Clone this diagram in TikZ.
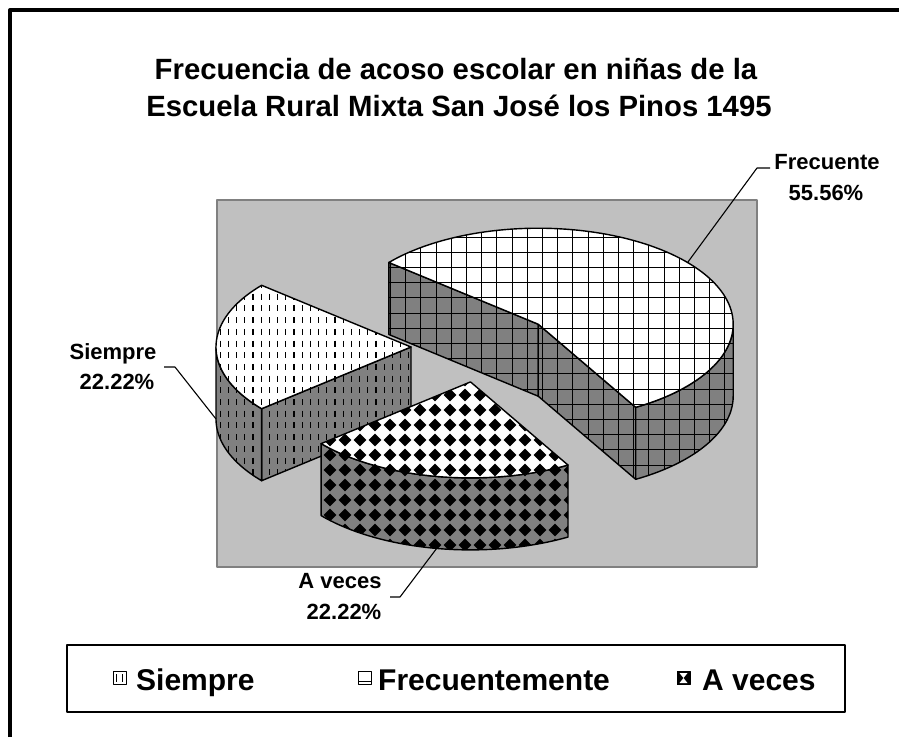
\documentclass[tikz,border=0pt]{standalone}
\usepackage{fontspec}
\setmainfont{Liberation Sans}
\begin{document}
\begin{tikzpicture}[x=1pt,y=-1pt,line join=round,
  edge/.style={draw=black,line width=1.4pt},
  leader/.style={draw=black,line width=1.1pt},
  lbl/.style={font=\fontsize{22}{26}\selectfont\bfseries,anchor=base,inner sep=0pt},
  ttl/.style={font=\fontsize{29.3}{34}\selectfont\bfseries,anchor=base,inner sep=0pt},
  leg/.style={font=\fontsize{30}{36}\selectfont\bfseries,anchor=base west,inner sep=0pt},
  key/.style={draw=black,line width=1pt,minimum size=13pt,inner sep=0pt}]
\definecolor{plotgrey}{HTML}{C0C0C0}
\definecolor{sidegrey}{HTML}{808080}
\newcommand\gridpat{%
  \foreach \k in {0,...,40}{\draw[black,line width=1.1pt] ({375.3+15.2*\k},200) -- ({375.3+15.2*\k},567);}%
  \foreach \k in {0,...,25}{\draw[black,line width=1.1pt] (217,{206.7+15.2*\k}) -- (757,{206.7+15.2*\k});}}
\newcommand\dashpat{%
  \foreach \i in {0,...,26}{\foreach \j in {0,...,18}{\draw[black,line width=1.3pt] ({212+8.2*\i},{282+11.7*\j}) -- ++(0,6);}}}
\newcommand\diapat{%
  \foreach \i in {0,...,18}{\foreach \j in {0,...,13}{\fill[black] ({315+15*\i},{380+15*\j}) +(-6.3,0) -- +(0,-6.3) -- +(6.3,0) -- +(0,6.3) -- cycle;}}}
\newcommand\face[3]{\begin{scope}\clip #1;\fill[#2] (0,0) rectangle (899,737);#3\end{scope}\draw[edge] #1;}
\useasboundingbox (0,0) rectangle (899,737);
\fill[white] (0,0) rectangle (899,737);
\draw[line width=4pt] (10,737) -- (10,10) -- (899,10);
\node[ttl] (t1) at (456,79) {Frecuencia de acoso escolar en niñas de la};
\node[ttl] (t2) at (459,116) {Escuela Rural Mixta San José los Pinos 1495};
\draw[fill=plotgrey,draw=sidegrey,line width=1.5pt] (217,200) rectangle (757,567);
% Frecuente
\def\Fx{538.2}\def\Fy{324.2}
\face{(\Fx,\Fy) -- ({\Fx+195*cos(140)},{\Fy-96*sin(140)}) -- ++(0,72) -- (\Fx,{\Fy+72}) -- cycle}{sidegrey}{\gridpat}
\face{(\Fx,\Fy) -- ({\Fx+195*cos(-60)},{\Fy-96*sin(-60)}) -- ++(0,72) -- (\Fx,{\Fy+72}) -- cycle}{sidegrey}{\gridpat}
\face{plot[domain=-60:0,samples=30,variable=\t] ({\Fx+195*cos(\t)},{\Fy-96*sin(\t)}) -- plot[domain=0:-60,samples=30,variable=\t] ({\Fx+195*cos(\t)},{\Fy+72-96*sin(\t)}) -- cycle}{sidegrey}{\gridpat}
\face{(\Fx,\Fy) -- plot[domain=-60:140,samples=100,variable=\t] ({\Fx+195*cos(\t)},{\Fy-96*sin(\t)}) -- cycle}{white}{\gridpat}
% Siempre
\def\Sx{411}\def\Sy{347}
\face{(\Sx,\Sy) -- ({\Sx+195*cos(220)},{\Sy-96*sin(220)}) -- ++(0,72) -- (\Sx,{\Sy+72}) -- cycle}{sidegrey}{\dashpat}
\face{plot[domain=180:220,samples=30,variable=\t] ({\Sx+195*cos(\t)},{\Sy-96*sin(\t)}) -- plot[domain=220:180,samples=30,variable=\t] ({\Sx+195*cos(\t)},{\Sy+72-96*sin(\t)}) -- cycle}{sidegrey}{\dashpat}
\face{(\Sx,\Sy) -- plot[domain=140:220,samples=50,variable=\t] ({\Sx+195*cos(\t)},{\Sy-96*sin(\t)}) -- cycle}{white}{\dashpat}
% A veces
\def\Ax{470.5}\def\Ay{381.9}
\face{plot[domain=220:300,samples=40,variable=\t] ({\Ax+195*cos(\t)},{\Ay-96*sin(\t)}) -- plot[domain=300:220,samples=40,variable=\t] ({\Ax+195*cos(\t)},{\Ay+72-96*sin(\t)}) -- cycle}{sidegrey}{\diapat}
\face{(\Ax,\Ay) -- plot[domain=220:300,samples=50,variable=\t] ({\Ax+195*cos(\t)},{\Ay-96*sin(\t)}) -- cycle}{white}{\diapat}
% labels
\node[lbl] (lf1) at (827,169) {Frecuente};
\node[lbl] (lf2) at (826,200) {55.56\%};
\node[lbl] (ls1) at (113,359) {Siempre};
\node[lbl] (ls2) at (117,389) {22.22\%};
\node[lbl] (la1) at (340,588) {A veces};
\node[lbl] (la2) at (344,619) {22.22\%};
\coordinate (pf) at ({\Fx+195*cos(40)},{\Fy-96*sin(40)});
\coordinate (qf) at (757,168);
\coordinate (rf) at (770,168);
\coordinate (ps) at ({\Sx-195},{\Sy+72});
\coordinate (qs) at (175,367);
\coordinate (rs) at (164,367);
\coordinate (pa) at ({\Ax+195*cos(260)},{\Ay+72-96*sin(260)});
\coordinate (qa) at (400,597);
\coordinate (ra) at (390,597);
\draw[leader] (pf) -- (qf) -- (rf);
\draw[leader] (ps) -- (qs) -- (rs);
\draw[leader] (pa) -- (qa) -- (ra);
% legend
\draw[line width=1.5pt] (67,645) rectangle (845,712);
\node[key,fill=white] (k1) at (119.5,678) {};
\draw[line width=1.2pt] ([xshift=-3pt,yshift=4pt]k1.center) -- ++(0,8) ([xshift=3pt,yshift=4pt]k1.center) -- ++(0,8);
\node[key,fill=white] (k2) at (365,678) {};
\draw[line width=1.2pt] ([yshift=3.5pt]k2.south west) -- ([yshift=3.5pt]k2.south east);
\node[key,fill=black] (k3) at (683.5,678) {};
\fill[white] ([xshift=-4pt,yshift=-5pt]k3.center) -- ([xshift=4pt,yshift=-5pt]k3.center) -- (k3.center) -- ([xshift=4pt,yshift=5pt]k3.center) -- ([xshift=-4pt,yshift=5pt]k3.center) -- (k3.center) -- cycle;
\node[leg] (g1) at (136,690) {Siempre};
\node[leg] (g2) at (378,690) {Frecuentemente};
\node[leg] (g3) at (702,690) {A veces};
\end{tikzpicture}
\end{document}
